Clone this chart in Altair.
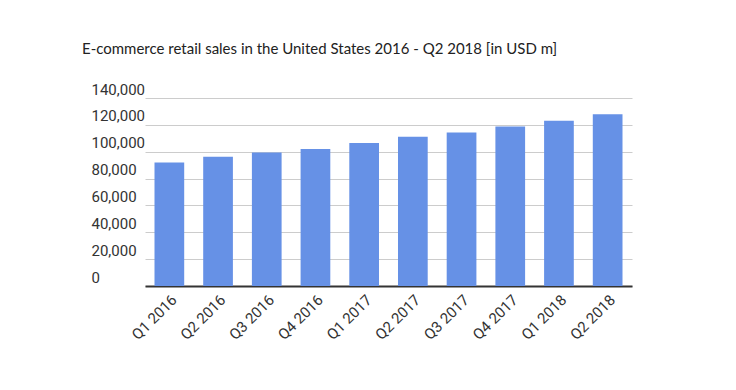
import altair as alt
import pandas as pd

quarters = ["Q1 2016", "Q2 2016", "Q3 2016", "Q4 2016", "Q1 2017",
            "Q2 2017", "Q3 2017", "Q4 2017", "Q1 2018", "Q2 2018"]
sales = [91900, 96300, 99500, 102000, 106500, 111100, 114400, 118800, 123000, 127900]
y_ticks = [0, 20000, 40000, 60000, 80000, 100000, 120000, 140000]

df = pd.DataFrame({"quarter": quarters, "sales": sales})

W, H = 541, 188
chart = alt.Chart(df).mark_bar(color="#6691e6").encode(
    x=alt.X("quarter:N", sort=quarters, title=None,
            scale=alt.Scale(range=[54, W], paddingInner=0.39, paddingOuter=0.195),
            axis=alt.Axis(labelAngle=-45, labelFont="Roboto", labelFontSize=15,
                          labelColor="#333333", ticks=False, labelPadding=6,
                          domainColor="#333333", domainWidth=2, grid=False)),
    y=alt.Y("sales:Q", title=None,
            scale=alt.Scale(domain=[0, 140000], nice=False),
            axis=alt.Axis(values=y_ticks, format=",d", labelFont="Roboto",
                          labelFontSize=15, labelColor="#333333", labelAlign="left",
                          labelBaseline="alphabetic", labelPadding=0, labelOffset=-4,
                          ticks=False, domain=False, gridColor="#cccccc",
                          gridWidth=1)),
).properties(
    width=W, height=H,
    title=alt.TitleParams("E-commerce retail sales in the United States 2016 - Q2 2018 [in USD m]",
                          font="Lato", fontSize=15, fontWeight="normal", color="#222222",
                          anchor="start", frame="group", baseline="alphabetic",
                          offset=13, dx=-9),
    padding={"left": 83, "top": 90, "right": 96, "bottom": 96},
    autosize=alt.AutoSizeParams(type="none"),
).configure_view(stroke=None)

chart.save("out.html", embed_options={"renderer": "svg", "actions": False})
